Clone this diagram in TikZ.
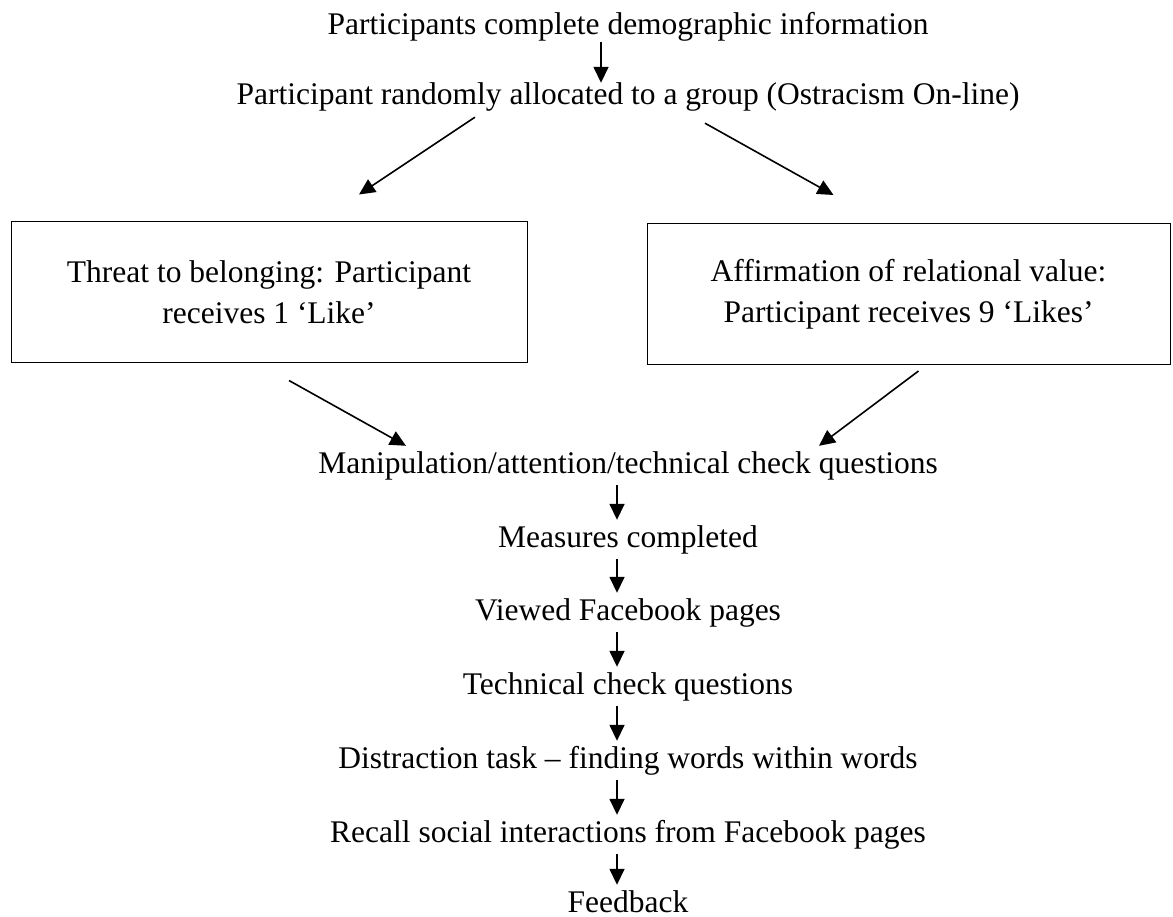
\documentclass[tikz,border=0pt]{standalone}
\usepackage{fontspec}
\setmainfont{Liberation Serif}
\usetikzlibrary{arrows.meta}
\begin{document}
\begin{tikzpicture}[x=1pt,y=-1pt,
  lbl/.style={inner xsep=0pt, inner ysep=5pt, text height=22pt, text depth=7pt,
              font=\fontsize{31.5}{41}\selectfont, anchor=base},
  grp/.style={draw, line width=1pt, minimum width=#1, minimum height=141pt,
              align=center, inner sep=0pt, font=\fontsize{31.5}{41}\selectfont},
  arr/.style={line width=1.6pt, -{Triangle[length=16pt,width=15pt]}}]
\useasboundingbox (0,0) rectangle (1173,917);

\node[lbl] (p1) at (628,35) {Participants complete demographic information};
\node[lbl] (p2) at (628,105) {Participant randomly allocated to a group (Ostracism On-line)};
\node[grp=516pt] (bl) at (269,292.5) {Threat to belonging: Participant\\receives 1 ‘Like’};
\node[grp=523pt] (br) at (908.5,294) {Affirmation of relational value:\\Participant receives 9 ‘Likes’};
\node[lbl] (m1) at (628,473) {Manipulation/attention/technical check questions};
\node[lbl] (m2) at (628,547) {Measures completed};
\node[lbl] (m3) at (628,620) {Viewed Facebook pages};
\node[lbl] (m4) at (628,694) {Technical check questions};
\node[lbl] (m5) at (628,768) {Distraction task – finding words within words};
\node[lbl] (m6) at (628,842) {Recall social interactions from Facebook pages};
\node[lbl, text depth=0pt, inner ysep=2pt] (m7) at (628,912) {Feedback};

\draw[arr] ([xshift=-27pt,yshift=5pt]p1.south) -- ([xshift=-27pt,yshift=-5pt]p2.north);
\draw[arr] ([xshift=-153pt]p2.south) -- ([xshift=90pt,yshift=27pt]bl.north);
\draw[arr] ([xshift=77pt,yshift=-6pt]p2.south) -- ([xshift=-75pt,yshift=28pt]br.north);
\draw[arr] ([xshift=20pt,yshift=-17pt]bl.south) -- ([xshift=-222pt]m1.north);
\draw[arr] ([xshift=10pt,yshift=-6pt]br.south) -- ([xshift=191pt]m1.north);
\draw[arr] ([xshift=-11pt]m1.south) -- ([xshift=-11pt]m2.north);
\draw[arr] ([xshift=-11pt]m2.south) -- ([xshift=-11pt]m3.north);
\draw[arr] ([xshift=-11pt]m3.south) -- ([xshift=-11pt]m4.north);
\draw[arr] ([xshift=-11pt]m4.south) -- ([xshift=-11pt]m5.north);
\draw[arr] ([xshift=-11pt]m5.south) -- ([xshift=-11pt]m6.north);
\draw[arr] ([xshift=-11pt]m6.south) -- ([xshift=-11pt,yshift=3pt]m7.north);
\end{tikzpicture}
\end{document}
